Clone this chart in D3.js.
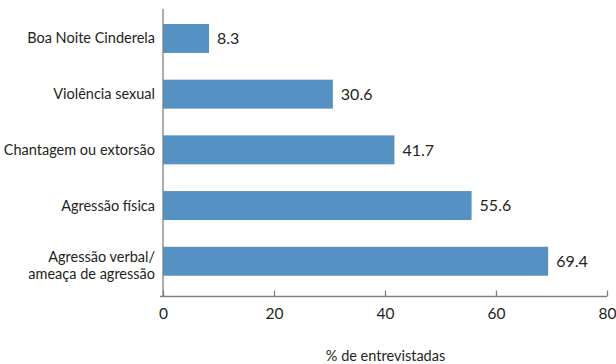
<!DOCTYPE html>
<html>
<head>
<meta charset="utf-8">
<script src="https://cdn.jsdelivr.net/npm/d3@7"></script>
<style>
  html, body { margin: 0; padding: 0; background: #fff; }
  svg { display: block; }
  text { font-family: Lato, "Open Sans", sans-serif; fill: #231f20; }
</style>
</head>
<body>
<svg id="chart" width="616" height="364"></svg>
<script>
const categories = [
  ["Boa Noite Cinderela"],
  ["Violência sexual"],
  ["Chantagem ou extorsão"],
  ["Agressão física"],
  ["Agressão verbal/", "ameaça de agressão"]
];
const values = [8.3, 30.6, 41.7, 55.6, 69.4];
const valueLabels = ["8.3", "30.6", "41.7", "55.6", "69.4"];
const xTicks = [0, 20, 40, 60, 80];
const xTitle = "% de entrevistadas";

const FONT = "Lato, 'Open Sans', sans-serif";
const svg = d3.select("#chart");
const x = d3.scaleLinear().domain([0, 80]).range([163, 607]);
const idx = d3.range(values.length);
const y = d3.scaleBand().domain(idx).range([10.6, 289.1]).paddingInner(0.48).paddingOuter(0.24);
const color = "#5591c2";
const axisColor = "#808080";

// bars
svg.append("g").selectAll("rect").data(idx).join("rect")
  .attr("x", x(0))
  .attr("y", i => y(i))
  .attr("width", i => x(values[i]) - x(0))
  .attr("height", y.bandwidth())
  .attr("fill", color);

// value labels
svg.append("g").selectAll("text").data(idx).join("text")
  .attr("x", i => x(values[i]) + 8)
  .attr("y", i => y(i) + y.bandwidth() / 2)
  .attr("dy", "0.36em")
  .attr("font-size", 16)
  .text(i => valueLabels[i]);

// category labels
const cl = svg.append("g").selectAll("text").data(idx).join("text")
  .attr("text-anchor", "end")
  .attr("font-size", 14.5)
  .attr("y", i => y(i) + y.bandwidth() / 2);
cl.each(function(i) {
  const lines = categories[i];
  const t = d3.select(this);
  lines.forEach((ln, k) => {
    const dy = lines.length === 1 ? 5 : (k === 0 ? 0.5 : 17.8);
    t.append("tspan").attr("x", 155).attr("y", y(i) + y.bandwidth() / 2 + dy).text(ln);
  });
});

// y axis line
svg.append("line")
  .attr("x1", x(0)).attr("x2", x(0))
  .attr("y1", 9).attr("y2", 296.5)
  .attr("stroke", axisColor).attr("stroke-width", 1.3);

// x axis
const xAxis = d3.axisBottom(x).tickValues(xTicks).tickSize(-6).tickPadding(11).tickFormat(d3.format("d"));
const gx = svg.append("g").attr("transform", "translate(0,296.5)").call(xAxis);
gx.select(".domain").attr("d", `M${x(0) - 3},0H${x(80)}`).attr("stroke", axisColor).attr("stroke-width", 1.3);
gx.selectAll(".tick line").attr("stroke", axisColor).attr("stroke-width", 1.3);
gx.selectAll(".tick text").attr("font-size", 15.5).attr("font-family", FONT).attr("fill", "#231f20");

svg.append("text")
  .attr("x", 385.5).attr("y", 361)
  .attr("text-anchor", "middle")
  .attr("font-size", 14.5)
  .text(xTitle);
</script>
</body>
</html>
